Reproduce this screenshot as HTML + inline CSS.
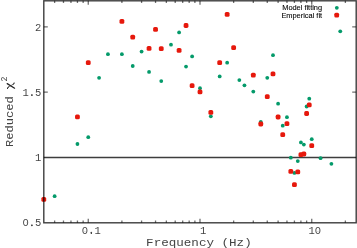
<!DOCTYPE html>
<html><head><meta charset="utf-8"><style>
html,body{margin:0;padding:0;background:#fff;width:357px;height:248px;overflow:hidden}
svg{display:block;transform:translateZ(0)}
</style></head><body><svg width="357" height="248" viewBox="0 0 357 248"><line x1="43.80" y1="157.51" x2="356.20" y2="157.51" stroke="#000" stroke-opacity="0.76" stroke-width="1.4"/><circle cx="54.63" cy="196.20" r="1.9" fill="#049a6a"/><circle cx="77.44" cy="144.00" r="1.9" fill="#049a6a"/><circle cx="88.26" cy="137.20" r="1.9" fill="#049a6a"/><circle cx="99.09" cy="77.80" r="1.9" fill="#049a6a"/><circle cx="107.94" cy="54.20" r="1.9" fill="#049a6a"/><circle cx="121.90" cy="54.20" r="1.9" fill="#049a6a"/><circle cx="132.73" cy="66.00" r="1.9" fill="#049a6a"/><circle cx="141.58" cy="51.60" r="1.9" fill="#049a6a"/><circle cx="149.06" cy="71.90" r="1.9" fill="#049a6a"/><circle cx="161.25" cy="81.10" r="1.9" fill="#049a6a"/><circle cx="170.99" cy="44.70" r="1.9" fill="#049a6a"/><circle cx="179.10" cy="32.40" r="1.9" fill="#049a6a"/><circle cx="186.04" cy="66.60" r="1.9" fill="#049a6a"/><circle cx="192.11" cy="56.40" r="1.9" fill="#049a6a"/><circle cx="200.00" cy="88.20" r="1.9" fill="#049a6a"/><circle cx="210.83" cy="116.30" r="1.9" fill="#049a6a"/><circle cx="219.68" cy="76.40" r="1.9" fill="#049a6a"/><circle cx="227.16" cy="62.70" r="1.9" fill="#049a6a"/><circle cx="239.35" cy="80.10" r="1.9" fill="#049a6a"/><circle cx="244.46" cy="85.30" r="1.9" fill="#049a6a"/><circle cx="253.31" cy="91.60" r="1.9" fill="#049a6a"/><circle cx="260.79" cy="121.80" r="1.9" fill="#049a6a"/><circle cx="267.27" cy="77.80" r="1.9" fill="#049a6a"/><circle cx="272.99" cy="55.20" r="1.9" fill="#049a6a"/><circle cx="278.10" cy="103.70" r="1.9" fill="#049a6a"/><circle cx="282.73" cy="125.70" r="1.9" fill="#049a6a"/><circle cx="286.95" cy="117.20" r="1.9" fill="#049a6a"/><circle cx="290.83" cy="157.70" r="1.9" fill="#049a6a"/><circle cx="294.43" cy="172.90" r="1.9" fill="#049a6a"/><circle cx="297.78" cy="161.10" r="1.9" fill="#049a6a"/><circle cx="300.91" cy="142.40" r="1.9" fill="#049a6a"/><circle cx="303.85" cy="144.60" r="1.9" fill="#049a6a"/><circle cx="306.62" cy="106.50" r="1.9" fill="#049a6a"/><circle cx="309.25" cy="98.70" r="1.9" fill="#049a6a"/><circle cx="311.74" cy="139.20" r="1.9" fill="#049a6a"/><circle cx="320.58" cy="158.20" r="1.9" fill="#049a6a"/><circle cx="331.41" cy="163.80" r="1.9" fill="#049a6a"/><circle cx="340.26" cy="31.30" r="1.9" fill="#049a6a"/><rect x="41.40" y="196.90" width="4.8" height="4.8" rx="1.55" fill="#e6180c"/><rect x="75.04" y="114.50" width="4.8" height="4.8" rx="1.55" fill="#e6180c"/><rect x="85.86" y="60.20" width="4.8" height="4.8" rx="1.55" fill="#e6180c"/><rect x="119.50" y="18.90" width="4.8" height="4.8" rx="1.55" fill="#e6180c"/><rect x="130.33" y="34.80" width="4.8" height="4.8" rx="1.55" fill="#e6180c"/><rect x="146.66" y="46.00" width="4.8" height="4.8" rx="1.55" fill="#e6180c"/><rect x="153.14" y="26.90" width="4.8" height="4.8" rx="1.55" fill="#e6180c"/><rect x="158.85" y="46.30" width="4.8" height="4.8" rx="1.55" fill="#e6180c"/><rect x="176.70" y="48.00" width="4.8" height="4.8" rx="1.55" fill="#e6180c"/><rect x="183.64" y="23.10" width="4.8" height="4.8" rx="1.55" fill="#e6180c"/><rect x="189.71" y="83.20" width="4.8" height="4.8" rx="1.55" fill="#e6180c"/><rect x="197.60" y="89.40" width="4.8" height="4.8" rx="1.55" fill="#e6180c"/><rect x="208.43" y="109.90" width="4.8" height="4.8" rx="1.55" fill="#e6180c"/><rect x="217.28" y="60.30" width="4.8" height="4.8" rx="1.55" fill="#e6180c"/><rect x="224.76" y="11.90" width="4.8" height="4.8" rx="1.55" fill="#e6180c"/><rect x="231.24" y="45.20" width="4.8" height="4.8" rx="1.55" fill="#e6180c"/><rect x="250.91" y="72.70" width="4.8" height="4.8" rx="1.55" fill="#e6180c"/><rect x="258.39" y="121.60" width="4.8" height="4.8" rx="1.55" fill="#e6180c"/><rect x="264.87" y="94.20" width="4.8" height="4.8" rx="1.55" fill="#e6180c"/><rect x="270.59" y="71.50" width="4.8" height="4.8" rx="1.55" fill="#e6180c"/><rect x="275.70" y="114.60" width="4.8" height="4.8" rx="1.55" fill="#e6180c"/><rect x="280.33" y="132.20" width="4.8" height="4.8" rx="1.55" fill="#e6180c"/><rect x="284.55" y="121.20" width="4.8" height="4.8" rx="1.55" fill="#e6180c"/><rect x="288.43" y="168.90" width="4.8" height="4.8" rx="1.55" fill="#e6180c"/><rect x="292.03" y="182.30" width="4.8" height="4.8" rx="1.55" fill="#e6180c"/><rect x="295.38" y="169.50" width="4.8" height="4.8" rx="1.55" fill="#e6180c"/><rect x="298.51" y="152.30" width="4.8" height="4.8" rx="1.55" fill="#e6180c"/><rect x="301.45" y="151.60" width="4.8" height="4.8" rx="1.55" fill="#e6180c"/><rect x="304.22" y="111.10" width="4.8" height="4.8" rx="1.55" fill="#e6180c"/><rect x="306.85" y="102.40" width="4.8" height="4.8" rx="1.55" fill="#e6180c"/><rect x="309.34" y="143.20" width="4.8" height="4.8" rx="1.55" fill="#e6180c"/><path d="M54.63 222.80v-2.2M54.63 0.80v2.2M63.48 222.80v-2.2M63.48 0.80v2.2M70.96 222.80v-2.2M70.96 0.80v2.2M77.44 222.80v-2.2M77.44 0.80v2.2M83.15 222.80v-2.2M83.15 0.80v2.2M88.26 222.80v-4M88.26 0.80v4M121.90 222.80v-2.2M121.90 0.80v2.2M141.58 222.80v-2.2M141.58 0.80v2.2M155.54 222.80v-2.2M155.54 0.80v2.2M166.36 222.80v-2.2M166.36 0.80v2.2M175.21 222.80v-2.2M175.21 0.80v2.2M182.69 222.80v-2.2M182.69 0.80v2.2M189.17 222.80v-2.2M189.17 0.80v2.2M194.89 222.80v-2.2M194.89 0.80v2.2M200.00 222.80v-4M200.00 0.80v4M233.64 222.80v-2.2M233.64 0.80v2.2M253.31 222.80v-2.2M253.31 0.80v2.2M267.27 222.80v-2.2M267.27 0.80v2.2M278.10 222.80v-2.2M278.10 0.80v2.2M286.95 222.80v-2.2M286.95 0.80v2.2M294.43 222.80v-2.2M294.43 0.80v2.2M300.91 222.80v-2.2M300.91 0.80v2.2M306.62 222.80v-2.2M306.62 0.80v2.2M311.74 222.80v-4M311.74 0.80v4M345.37 222.80v-2.2M345.37 0.80v2.2M43.80 92.21h4M356.20 92.21h-4M43.80 26.92h4M356.20 26.92h-4" stroke="#707070" stroke-width="1.3" fill="none"/><rect x="43.80" y="0.80" width="312.40" height="222.00" fill="none" stroke="#000" stroke-opacity="0.76" stroke-width="1.4"/><circle cx="336.8" cy="7.8" r="1.9" fill="#049a6a"/><rect x="334.30" y="12.80" width="4.8" height="4.8" rx="1.55" fill="#e6180c"/><text x="322.1" y="10.4" font-family="Liberation Sans, sans-serif" font-size="7.4" text-anchor="end" fill="#000" stroke="#000" stroke-width="0.1">Model fitting</text><text x="322.1" y="17.7" font-family="Liberation Sans, sans-serif" font-size="7.4" text-anchor="end" fill="#000" stroke="#000" stroke-width="0.1">Emperical fit</text><text x="41.3" y="30.52" font-size="10.5" text-anchor="end" font-family="Liberation Mono, monospace" fill="#444">2</text><text x="41.3" y="95.81" font-size="10.5" text-anchor="end" font-family="Liberation Mono, monospace" fill="#444">1.5</text><text x="41.3" y="161.11" font-size="10.5" text-anchor="end" font-family="Liberation Mono, monospace" fill="#444">1</text><text x="41.3" y="226.40" font-size="10.5" text-anchor="end" font-family="Liberation Mono, monospace" fill="#444">0.5</text><text x="91.31" y="233.5" font-size="10.5" text-anchor="middle" font-family="Liberation Mono, monospace" fill="#444">0.1</text><text x="203.05" y="233.5" font-size="10.5" text-anchor="middle" font-family="Liberation Mono, monospace" fill="#444">1</text><text x="314.79" y="233.5" font-size="10.5" text-anchor="middle" font-family="Liberation Mono, monospace" fill="#444">10</text><circle cx="31.85" cy="94.96" r="0.8" fill="#444"/><rect x="24.55" y="221.89" width="2.00" height="2.10" fill="#fff"/><circle cx="31.85" cy="225.55" r="0.8" fill="#444"/><rect x="84.02" y="228.99" width="2.00" height="2.10" fill="#fff"/><circle cx="91.31" cy="232.65" r="0.8" fill="#444"/><rect x="316.94" y="228.99" width="2.00" height="2.10" fill="#fff"/><text x="146.11" y="245.7" font-size="11.6" textLength="105.60" lengthAdjust="spacingAndGlyphs" font-family="Liberation Mono, monospace" fill="#444">Frequency (Hz)</text><text transform="translate(13.3,147.06) rotate(-90)" font-size="11.6" textLength="50.82" lengthAdjust="spacingAndGlyphs" font-family="Liberation Mono, monospace" fill="#444">Reduced</text><path d="M7.2 83.6L14.6 88.2" stroke="#222" stroke-width="1.25" stroke-linecap="round" fill="none"/><path d="M8.3 87.2L13.4 84.1" stroke="#333" stroke-width="0.65" stroke-linecap="round" fill="none"/><path d="M8.6 86.9Q7.0 87.2 7.4 88.6M13.1 84.3Q14.7 84.2 14.3 82.9" stroke="#222" stroke-width="1.0" stroke-linecap="round" fill="none"/><text transform="translate(7.0,81.6) rotate(-90)" font-size="8.4" font-family="Liberation Mono, monospace" fill="#444">2</text></svg></body></html>
